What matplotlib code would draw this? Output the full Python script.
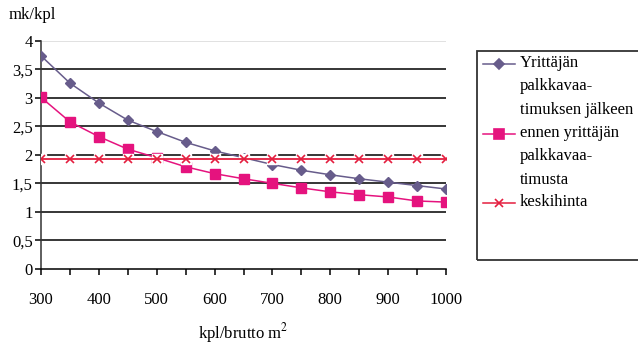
import matplotlib
matplotlib.use("Agg")
import matplotlib.pyplot as plt
from matplotlib.lines import Line2D
from matplotlib.patches import Rectangle

# kpl/brutto m2 categories
kpl = [300, 350, 400, 450, 500, 550, 600, 650, 700, 750, 800, 850, 900, 950, 1000]
tick_labels = ["300", "", "400", "", "500", "", "600", "", "700", "", "800", "", "900", "", "1000"]

# mk/kpl
jalkeen = [3.74, 3.26, 2.91, 2.61, 2.41, 2.22, 2.07, 1.95, 1.83, 1.73, 1.65, 1.58, 1.52, 1.46, 1.40]
ennen = [3.01, 2.58, 2.32, 2.10, 1.95, 1.79, 1.67, 1.58, 1.50, 1.42, 1.35, 1.30, 1.26, 1.19, 1.17]
keskihinta = [1.92] * len(kpl)

labels = ["Yrittäjän\npalkkavaa-\ntimuksen jälkeen",
          "ennen yrittäjän\npalkkavaa-\ntimusta",
          "keskihinta"]

c_purple = "#675c8b"
c_pink = "#e5137e"
c_red = "#e41e3f"

plt.rcParams["font.family"] = ["Liberation Serif", "DejaVu Serif"]

W, H = 638, 349
fig = plt.figure(figsize=(W / 100, H / 100), dpi=100)
ax = fig.add_axes([41 / W, 1 - 268.7 / H, (446 - 41) / W, (268.7 - 41) / H])

x = list(range(len(kpl)))

# horizontal gridlines
for v in [0.5, 1, 1.5, 2, 2.5, 3, 3.5]:
    ax.axhline(v, color="black", lw=1.1, zorder=1)
ax.axhline(4, color="#d8d8d8", lw=1.1, zorder=1)

ax.plot(x, jalkeen, color=c_purple, lw=1.1, marker="D", ms=5.5,
        mec=c_purple, mfc=c_purple, zorder=3)
ax.plot(x, ennen, color=c_pink, lw=1.1, marker="s", ms=6.5,
        mec=c_pink, mfc=c_pink, zorder=3)
# white pad behind the crosses
ax.plot(x, keskihinta, ls="none", marker="s", ms=7, mfc="white", mec="white", zorder=4)
ax.plot(x, keskihinta, color=c_red, lw=1.3, marker="x", ms=5.5, mew=1.2, zorder=5)

ax.set_xlim(0, len(kpl) - 1)
ax.set_ylim(0, 4)
ax.set_xticks(x)
ax.set_xticklabels(tick_labels, fontsize=12)
ax.set_yticks([0, 0.5, 1, 1.5, 2, 2.5, 3, 3.5, 4])
ax.set_yticklabels(["0", "0,5", "1", "1,5", "2", "2,5", "3", "3,5", "4"], fontsize=12)
ax.tick_params(axis="x", direction="out", length=4, width=1.1, pad=13, color="black")
ax.tick_params(axis="y", direction="out", length=4, width=1.1, pad=2, color="black")
for s in ["top", "right"]:
    ax.spines[s].set_visible(False)
for s in ["left", "bottom"]:
    ax.spines[s].set_linewidth(1.1)
ax.spines["left"].set_color("#333333")
ax.spines["bottom"].set_color("black")
ax.spines["bottom"].set_zorder(6)

fig.text(9 / W, 1 - 15 / H, "mk/kpl", fontsize=12, ha="left", va="center")
fig.text(243 / W, 1 - 333 / H, "kpl/brutto m$^2$", fontsize=12, ha="center", va="center",
         math_fontfamily="stix")

# legend box
fig.patches.append(Rectangle((476.7 / W, 1 - 260 / H), (640 - 476.7) / W, (260 - 51) / H,
                             transform=fig.transFigure, fill=False, ec="#333333", lw=1.3))

def legend_entry(y_px, color, marker, ms, text):
    y = 1 - y_px / H
    fig.add_artist(Line2D([483 / W, 515 / W], [y, y], color=color, lw=1.1,
                          transform=fig.transFigure))
    fig.add_artist(Line2D([499 / W], [y], color=color, marker=marker, ms=ms,
                          mfc=color, mec=color, mew=1.2, transform=fig.transFigure))
    fig.text(520 / W, 1 - (y_px - 9) / H, text, fontsize=12, ha="left", va="top",
             linespacing=1.62)

legend_entry(64, c_purple, "D", 5.5, labels[0])
legend_entry(134, c_pink, "s", 6.5, labels[1])
legend_entry(203, c_red, "x", 5.5, labels[2])

fig.savefig("out.png", dpi=100)
